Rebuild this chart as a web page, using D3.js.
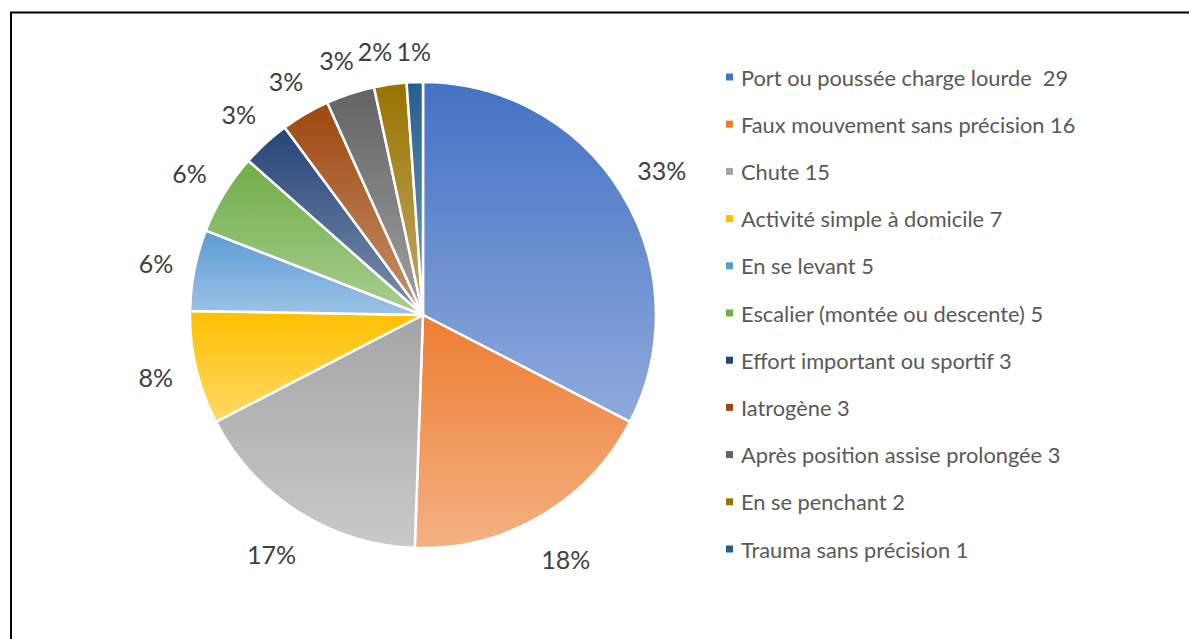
<!DOCTYPE html>
<html>
<head>
<meta charset="utf-8">
<script src="https://cdn.jsdelivr.net/npm/d3@7"></script>
<style>
  body { margin: 0; background: #fff; }
  text { font-family: Lato, "Open Sans", sans-serif; white-space: pre; }
</style>
</head>
<body>
<div class="canvas"></div>
<script>
// data
const categories = [
  'Port ou poussée charge lourde  29',
  'Faux mouvement sans précision 16',
  'Chute 15',
  'Activité simple à domicile 7',
  'En se levant 5',
  'Escalier (montée ou descente) 5',
  'Effort important ou sportif 3',
  'Iatrogène 3',
  'Après position assise prolongée 3',
  'En se penchant 2',
  'Trauma sans précision 1'
];
const values = [29, 16, 15, 7, 5, 5, 3, 3, 3, 2, 1];
const colors = ['#4472C4', '#ED7D31', '#A5A5A5', '#FFC000', '#5B9BD5', '#70AD47',
  '#264478', '#9E480E', '#636363', '#997300', '#255E91'];

const width = 1189, height = 639;
const cx = 423, cy = 315, radius = 233;

const svg = d3.select('.canvas')
  .append('svg')
  .attr('width', width)
  .attr('height', height);

// frame (only top and left edges are visible in the crop)
svg.append('path')
  .attr('d', `M11,${height} V12.5 H${width}`)
  .attr('fill', 'none')
  .attr('stroke', '#000')
  .attr('stroke-width', 2);

// gradients: colour at top, 40% lighter at bottom
const defs = svg.append('defs');
colors.forEach((c, i) => {
  const g = defs.append('linearGradient')
    .attr('id', `grad${i}`)
    .attr('x1', 0).attr('y1', 0).attr('x2', 0).attr('y2', 1);
  g.append('stop').attr('offset', '0%').attr('stop-color', c);
  g.append('stop').attr('offset', '100%').attr('stop-color', d3.interpolateRgb(c, '#fff')(0.4));
});

const pie = d3.pie().sort(null).value(d => d);
const arcs = pie(values);
const arc = d3.arc().innerRadius(0).outerRadius(radius);
const total = d3.sum(values);

const graph = svg.append('g')
  .attr('transform', `translate(${cx}, ${cy})`);

graph.selectAll('path')
  .data(arcs)
  .enter()
  .append('path')
  .attr('d', arc)
  .attr('fill', (d, i) => `url(#grad${i})`)
  .attr('stroke', '#fff')
  .attr('stroke-width', 2.5)
  .attr('stroke-linejoin', 'round');

// percentage labels outside the pie
const labels = graph.selectAll('text.pct')
  .data(arcs)
  .enter()
  .append('text')
  .attr('class', 'pct')
  .attr('text-anchor', 'middle')
  .attr('dominant-baseline', 'central')
  .attr('font-size', 25)
  .attr('fill', '#404040')
  .text(d => `${Math.round(d.value / total * 100)}%`);

const boxes = [];
labels.each(function(d) {
  const a = (d.startAngle + d.endAngle) / 2;
  const dx = Math.sin(a), dy = -Math.cos(a);
  const w = this.getComputedTextLength();
  const r = radius + 20 + Math.abs(dx) * w / 2 + Math.abs(dy) * 11 + Math.max(0, dy) * 9;
  boxes.push({ el: this, x: dx * r, y: dy * r, w: w });
});

// push overlapping labels near the top apart (walk back from the last slice)
for (let i = boxes.length - 2; i >= 0; i--) {
  const b = boxes[i], n = boxes[i + 1];
  if (b.y < 0 && n.y < 0 && b.x < n.x && Math.abs(b.y - n.y) < 24) {
    const overlap = (b.x + b.w / 2) - (n.x - n.w / 2);
    if (overlap > -4) b.x -= overlap + 4;
  }
}
boxes.forEach(b => d3.select(b.el).attr('x', b.x).attr('y', b.y));

// legend
const legend = svg.append('g')
  .attr('transform', 'translate(726, 77)');

const rows = legend.selectAll('g')
  .data(categories)
  .enter()
  .append('g')
  .attr('transform', (d, i) => `translate(0, ${i * 47.2})`);

rows.append('rect')
  .attr('x', 0).attr('y', -3.5)
  .attr('width', 7).attr('height', 7)
  .attr('fill', (d, i) => colors[i]);

rows.append('text')
  .attr('x', 15)
  .attr('dominant-baseline', 'central')
  .attr('font-size', 21.8)
  .attr('fill', '#595959')
  .text(d => d);
</script>
</body>
</html>
